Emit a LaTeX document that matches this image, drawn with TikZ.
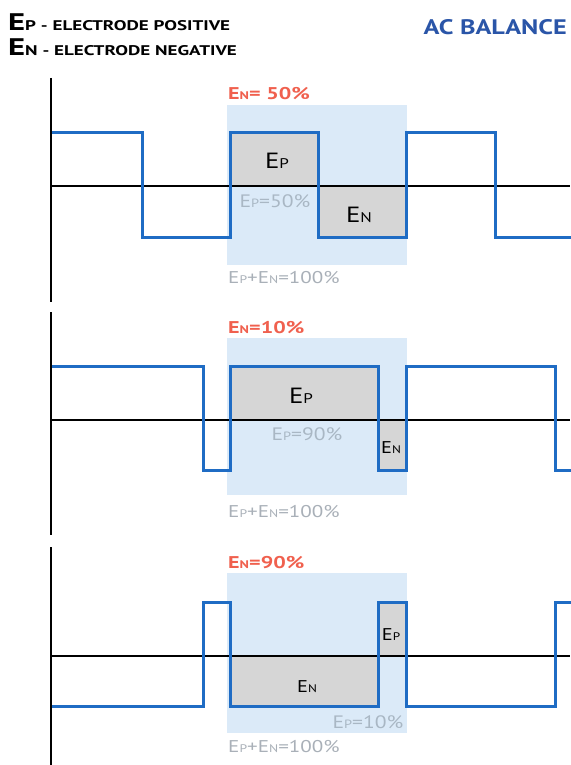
\documentclass[tikz,border=0pt]{standalone}
\usepackage{fontspec}
\usepackage{graphicx}
\setmainfont{PT Sans}
\newcommand\smc[2]{{\fontsize{#1}{#1}\selectfont #2}}
\newcommand\wid[2]{\scalebox{#1}[1]{#2}}
\definecolor{wave}{HTML}{1F6CC4}
\definecolor{lightbox}{HTML}{DBEAF8}
\definecolor{grayfill}{HTML}{D6D6D6}
\definecolor{redlab}{HTML}{F0604E}
\definecolor{graylab}{HTML}{A9B7C4}
\definecolor{sumlab}{HTML}{A9B0B8}
\definecolor{titleblue}{HTML}{2A55A8}
\tikzset{
  wavestyle/.style={draw=wave, line width=3pt, line join=miter},
  axisstyle/.style={draw=black, line width=2.4pt},
  zerostyle/.style={draw=black, line width=2.1pt},
  redtxt/.style={text=redlab, font=\bfseries\fontsize{17}{17}\selectfont, inner sep=0pt, anchor=base west},
  sumtxt/.style={text=sumlab, font=\fontsize{17}{17}\selectfont, inner sep=0pt, anchor=base west},
  pcttxt/.style={text=graylab, font=\fontsize{18}{18}\selectfont, inner sep=0pt, anchor=base},
  bigtxt/.style={text=black, font=\fontsize{22}{22}\selectfont, inner sep=0pt, anchor=base},
  midtxt/.style={text=black, font=\fontsize{17}{17}\selectfont, inner sep=0pt, anchor=base},
}
\begin{document}
\begin{tikzpicture}[x=1pt,y=-1pt]
\useasboundingbox[fill=white] (0,0) rectangle (570,765);
% ---------- header
\node[anchor=base west, inner sep=0pt, font=\bfseries\fontsize{24}{24}\selectfont] (h1) at (8,31) {\wid{1.36}{E\smc{14}{P - ELECTRODE POSITIVE}}};
\node[anchor=base west, inner sep=0pt, font=\bfseries\fontsize{24}{24}\selectfont] (h2) at (8,56) {\wid{1.36}{E\smc{14}{N - ELECTRODE NEGATIVE}}};
\node[anchor=base east, inner sep=0pt, text=titleblue, font=\bfseries\fontsize{21}{21}\selectfont] (title) at (567,35) {\wid{1.25}{AC BALANCE}};
% ---------- panel 1
\fill[lightbox] (227,105) rectangle (407,265);
\fill[grayfill] (230,132) rectangle (318,186);
\fill[grayfill] (318,186) rectangle (406,237);
\draw[zerostyle] (51,186) -- (570,186);
\draw[wavestyle] (51,132) -- (142,132) -- (142,237) -- (230,237) -- (230,132) -- (318,132) -- (318,237) -- (406,237) -- (406,132) -- (495,132) -- (495,237) -- (571,237);
\draw[axisstyle] (51,78) -- (51,302);
\node[redtxt] (r1) at (228,100) {\wid{1.3}{E\smc{11}{N}= 50\%}};
\node[bigtxt] (p1) at (277,168) {\wid{1.22}{E\smc{14}{P}}};
\node[pcttxt] (q1) at (275,207) {\wid{1.2}{E\smc{12}{P}=50\%}};
\node[bigtxt] (n1) at (359,222) {\wid{1.22}{E\smc{14}{N}}};
\node[sumtxt] (s1) at (228,283) {\wid{1.24}{E\smc{11}{P}+E\smc{11}{N}=100\%}};
% ---------- panel 2
\fill[lightbox] (227,338) rectangle (407,495);
\fill[grayfill] (230,366) rectangle (378,420);
\fill[grayfill] (378,420) rectangle (406,470);
\draw[zerostyle] (51,420) -- (570,420);
\draw[wavestyle] (51,366) -- (203,366) -- (203,470) -- (230,470) -- (230,366) -- (378,366) -- (378,470) -- (406,470) -- (406,366) -- (555,366) -- (555,470) -- (571,470);
\draw[axisstyle] (51,312) -- (51,535);
\node[redtxt] (r2) at (228,333) {\wid{1.3}{E\smc{11}{N}=10\%}};
\node[bigtxt] (p2) at (301,403) {\wid{1.22}{E\smc{14}{P}}};
\node[pcttxt] (q2) at (307,440) {\wid{1.2}{E\smc{12}{P}=90\%}};
\node[midtxt] (n2) at (391,453) {\wid{1.2}{E\smc{11}{N}}};
\node[sumtxt] (s2) at (228,517) {\wid{1.24}{E\smc{11}{P}+E\smc{11}{N}=100\%}};
% ---------- panel 3
\fill[lightbox] (227,573) rectangle (407,733);
\fill[grayfill] (230,656) rectangle (378,706);
\fill[grayfill] (378,602) rectangle (406,656);
\draw[zerostyle] (51,656) -- (570,656);
\draw[wavestyle] (51,706) -- (203,706) -- (203,602) -- (230,602) -- (230,706) -- (378,706) -- (378,602) -- (406,602) -- (406,706) -- (555,706) -- (555,602) -- (571,602);
\draw[axisstyle] (51,547) -- (51,766);
\node[redtxt] (r3) at (228,568) {\wid{1.3}{E\smc{11}{N}=90\%}};
\node[midtxt] (n3) at (307,692) {\wid{1.2}{E\smc{11}{N}}};
\node[midtxt] (p3) at (391,640) {\wid{1.2}{E\smc{11}{P}}};
\node[pcttxt] (q3) at (368,728) {\wid{1.2}{E\smc{12}{P}=10\%}};
\node[sumtxt] (s3) at (228,752) {\wid{1.24}{E\smc{11}{P}+E\smc{11}{N}=100\%}};
\end{tikzpicture}
\end{document}
